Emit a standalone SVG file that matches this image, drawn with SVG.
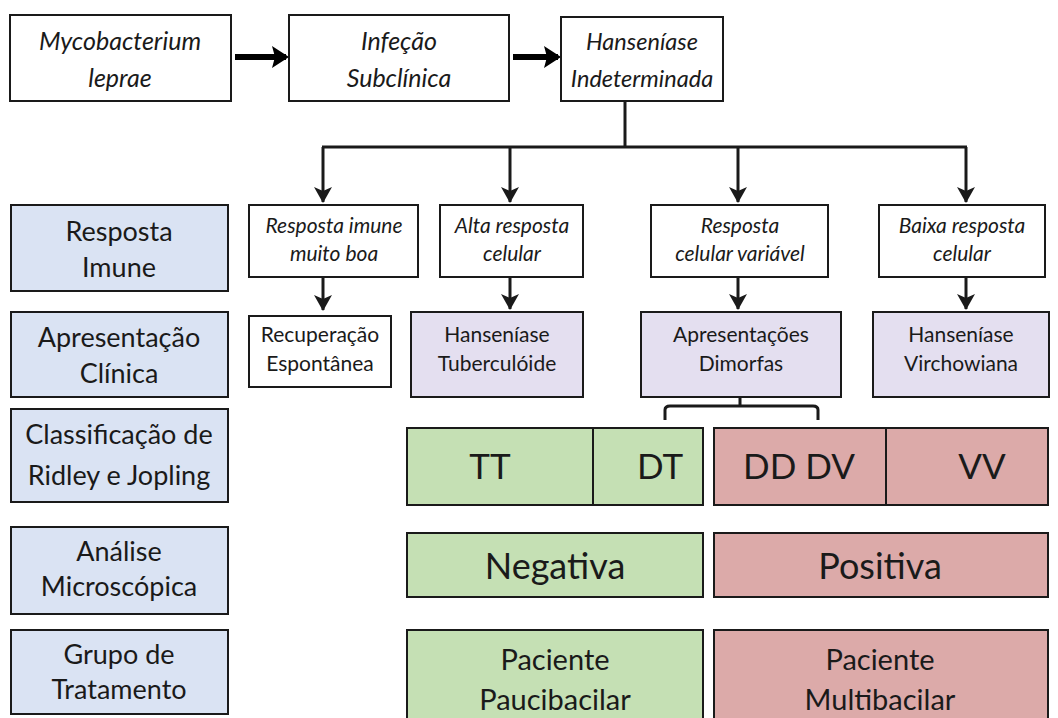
<svg xmlns="http://www.w3.org/2000/svg" width="1058" height="718" viewBox="0 0 1058 718">
<defs>
<style>
.box{stroke:#1a1a1a;stroke-width:2}
.w{fill:#ffffff}
.blue{fill:#dae3f3}
.lav{fill:#e4dff0}
.grn{fill:#c5e0b4}
.red{fill:#dcaaa9}
text{font-family:Lato,"Open Sans","Liberation Sans",sans-serif;fill:#1a1a1a;text-anchor:middle}
.it{font-style:italic}
.t1{font-size:25px}
.t1s{font-size:23.5px}
.t2{font-size:21px}
.t3{font-size:21px}
.tl{font-size:27px}
.tc{font-size:35px}
.tn{font-size:36px}
.tp{font-size:29px}
.ln{fill:none;stroke:#1a1a1a;stroke-width:3}
.thick{fill:none;stroke:#000;stroke-width:6}
</style>
<marker id="big" markerUnits="userSpaceOnUse" markerWidth="18" markerHeight="22" refX="14" refY="11" orient="auto">
<path d="M0,0 L17,11 L0,22 L3,11 z" fill="#000"/>
</marker>
<marker id="dn" markerUnits="userSpaceOnUse" markerWidth="18" markerHeight="18" refX="15" refY="9" orient="auto">
<path d="M0,0 L16,9 L0,18 L4,9 z" fill="#1a1a1a"/>
</marker>
</defs>

<g id="connectors">
<line class="thick" x1="235" y1="57" x2="286" y2="57" marker-end="url(#big)"/>
<line class="thick" x1="513" y1="57" x2="558" y2="57" marker-end="url(#big)"/>
<line class="ln" x1="625" y1="101" x2="625" y2="147"/>
<line class="ln" x1="322" y1="147" x2="967" y2="147"/>
<line class="ln" x1="323" y1="147" x2="323" y2="202" marker-end="url(#dn)"/>
<line class="ln" x1="510" y1="147" x2="510" y2="202" marker-end="url(#dn)"/>
<line class="ln" x1="738" y1="147" x2="738" y2="202" marker-end="url(#dn)"/>
<line class="ln" x1="966" y1="147" x2="966" y2="202" marker-end="url(#dn)"/>
<line class="ln" x1="323" y1="277" x2="323" y2="310" marker-end="url(#dn)"/>
<line class="ln" x1="510" y1="277" x2="510" y2="309" marker-end="url(#dn)"/>
<line class="ln" x1="738" y1="277" x2="738" y2="309" marker-end="url(#dn)"/>
<line class="ln" x1="966" y1="277" x2="966" y2="309" marker-end="url(#dn)"/>
<path class="ln" d="M740,397 V406 M665,420 V410 Q665,406 670,406 H813 Q818,406 818,410 V420"/>
</g>

<g id="n-myco">
<rect class="box w" x="10" y="15" width="221" height="86"/>
<text class="t1 it" x="120" y="50">Mycobacterium</text>
<text class="t1 it" x="120" y="87">leprae</text>
</g>
<g id="n-infecao">
<rect class="box w" x="289" y="15" width="220" height="86"/>
<text class="t1 it" x="399" y="50">Infeção</text>
<text class="t1 it" x="399" y="87">Subclínica</text>
</g>
<g id="n-indet">
<rect class="box w" x="561" y="17" width="162" height="84"/>
<text class="t1s it" x="642" y="50">Hanseníase</text>
<text class="t1s it" x="642" y="87">Indeterminada</text>
</g>

<g id="l-resposta">
<rect class="box blue" x="11" y="205" width="217" height="86"/>
<text class="tl" x="119" y="241">Resposta</text>
<text class="tl" x="119" y="277">Imune</text>
</g>
<g id="l-apresentacao">
<rect class="box blue" x="11" y="312" width="217" height="85"/>
<text class="tl" x="119" y="347">Apresentação</text>
<text class="tl" x="119" y="383">Clínica</text>
</g>
<g id="l-classificacao">
<rect class="box blue" x="11" y="409" width="217" height="93"/>
<text class="tl" x="119" y="444">Classificação de</text>
<text class="tl" x="119" y="485">Ridley e Jopling</text>
</g>
<g id="l-analise">
<rect class="box blue" x="11" y="527" width="217" height="87"/>
<text class="tl" x="119" y="561">Análise</text>
<text class="tl" x="119" y="596">Microscópica</text>
</g>
<g id="l-grupo">
<rect class="box blue" x="11" y="630" width="217" height="84"/>
<text class="tl" x="119" y="664">Grupo de</text>
<text class="tl" x="119" y="699">Tratamento</text>
</g>

<g id="n-boa">
<rect class="box w" x="249" y="205" width="169" height="72"/>
<text class="t2 it" x="334" y="233">Resposta imune</text>
<text class="t2 it" x="334" y="261">muito boa</text>
</g>
<g id="n-alta">
<rect class="box w" x="440" y="205" width="143" height="72"/>
<text class="t2 it" x="512" y="233">Alta resposta</text>
<text class="t2 it" x="512" y="261">celular</text>
</g>
<g id="n-variavel">
<rect class="box w" x="651" y="205" width="177" height="72"/>
<text class="t2 it" x="740" y="233">Resposta</text>
<text class="t2 it" x="740" y="261">celular variável</text>
</g>
<g id="n-baixa">
<rect class="box w" x="879" y="205" width="166" height="72"/>
<text class="t2 it" x="962" y="233">Baixa resposta</text>
<text class="t2 it" x="962" y="261">celular</text>
</g>

<g id="n-recuperacao">
<rect class="box w" x="249" y="316" width="142" height="71"/>
<text class="t3" x="320" y="342">Recuperação</text>
<text class="t3" x="320" y="371">Espontânea</text>
</g>
<g id="n-tuberculoide">
<rect class="box lav" x="411" y="312" width="172" height="85"/>
<text class="t3" x="497" y="342">Hanseníase</text>
<text class="t3" x="497" y="371">Tuberculóide</text>
</g>
<g id="n-dimorfas">
<rect class="box lav" x="641" y="312" width="200" height="85"/>
<text class="t3" x="741" y="342">Apresentações</text>
<text class="t3" x="741" y="371">Dimorfas</text>
</g>
<g id="n-virchowiana">
<rect class="box lav" x="873" y="312" width="176" height="85"/>
<text class="t3" x="961" y="342">Hanseníase</text>
<text class="t3" x="961" y="371">Virchowiana</text>
</g>

<g id="n-tt-dt">
<rect class="box grn" x="407" y="428" width="296" height="77"/>
<line class="box" x1="593" y1="428" x2="593" y2="505"/>
<text class="tc" x="490" y="479">TT</text>
<text class="tc" x="660" y="479">DT</text>
</g>
<g id="n-dd-vv">
<rect class="box red" x="714" y="428" width="334" height="77"/>
<line class="box" x1="886" y1="428" x2="886" y2="505"/>
<text class="tc" x="799" y="479">DD  DV</text>
<text class="tc" x="982" y="479">VV</text>
</g>

<g id="n-negativa">
<rect class="box grn" x="407" y="533" width="296" height="64"/>
<text class="tn" x="555" y="579">Negativa</text>
</g>
<g id="n-positiva">
<rect class="box red" x="714" y="533" width="334" height="64"/>
<text class="tn" x="880" y="579">Positiva</text>
</g>

<g id="n-pauci">
<rect class="box grn" x="407" y="630" width="296" height="100"/>
<text class="tp" x="555" y="670">Paciente</text>
<text class="tp" x="555" y="710">Paucibacilar</text>
</g>
<g id="n-multi">
<rect class="box red" x="714" y="630" width="334" height="100"/>
<text class="tp" x="880" y="670">Paciente</text>
<text class="tp" x="880" y="710">Multibacilar</text>
</g>
</svg>
